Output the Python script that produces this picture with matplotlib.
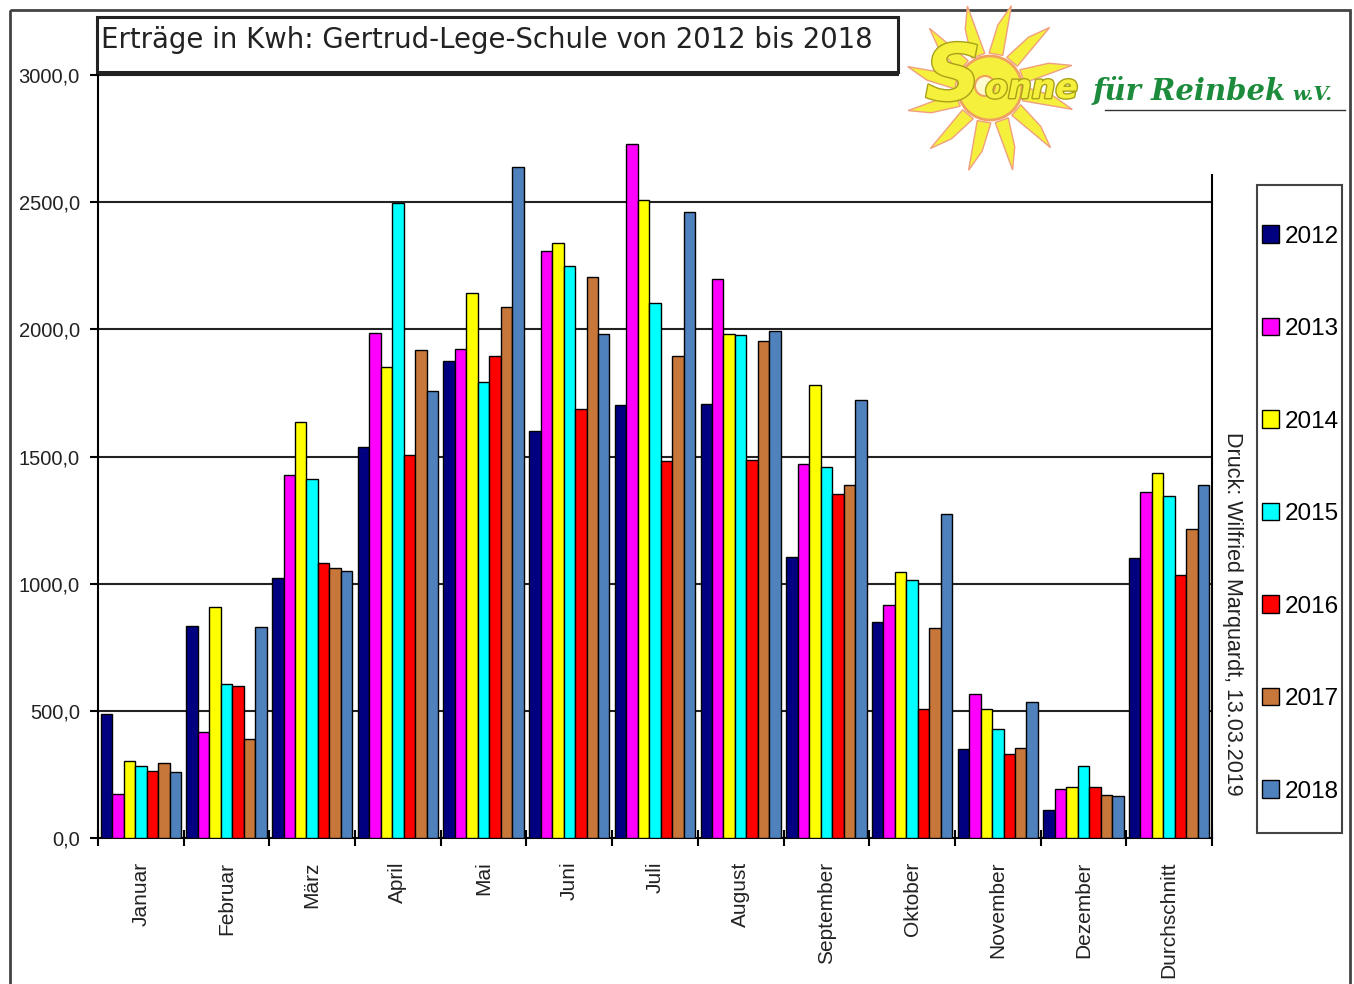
import numpy as np
import matplotlib
matplotlib.use('Agg')
from matplotlib import pyplot as plt
from matplotlib.patches import Rectangle, Polygon, Circle
import matplotlib.patheffects as pe

# Monate und Jahreswerte (kWh)
monate = ['Januar', 'Februar', 'März', 'April', 'Mai', 'Juni', 'Juli', 'August',
          'September', 'Oktober', 'November', 'Dezember', 'Durchschnitt']
jahre = ['2012', '2013', '2014', '2015', '2016', '2017', '2018']

w2012 = [486, 834, 1021, 1538, 1875, 1601, 1701, 1706, 1105, 850, 350, 110, 1101]
w2013 = [173, 418, 1426, 1986, 1922, 2309, 2728, 2197, 1470, 915, 565, 194, 1359]
w2014 = [301, 907, 1634, 1853, 2141, 2340, 2508, 1980, 1783, 1046, 508, 202, 1434]
w2015 = [283, 604, 1411, 2497, 1794, 2248, 2104, 1978, 1460, 1013, 427, 283, 1344]
w2016 = [263, 599, 1080, 1506, 1896, 1685, 1482, 1486, 1351, 506, 330, 199, 1036]
w2017 = [293, 388, 1060, 1918, 2089, 2206, 1896, 1955, 1389, 825, 354, 169, 1215]
w2018 = [260, 829, 1050, 1758, 2639, 1980, 2462, 1993, 1722, 1272, 536, 166, 1389]

werte = [w2012, w2013, w2014, w2015, w2016, w2017, w2018]
farben = ['#000080', '#ff00ff', '#ffff00', '#00ffff', '#ff0000', '#c8773a', '#4f81bd']

W, H = 1354, 984
fig = plt.figure(figsize=(W / 100, H / 100), dpi=100)
fig.patch.set_facecolor('white')

# Diagrammbereich in Pixeln
ax = fig.add_axes([98 / W, 1 - 838 / H, (1212 - 98) / W, (838 - 75) / H])
ax.set_facecolor('white')

x = np.arange(len(monate))
breite = 0.134
for k, (jahr, vals, col) in enumerate(zip(jahre, werte, farben)):
    ax.bar(x + (k - 3) * breite, vals, width=breite, color=col, edgecolor='black',
           linewidth=1.0, label=jahr, zorder=3)

ax.set_xlim(-0.5, len(monate) - 0.5)
ax.set_ylim(0, 3000)

# Gitterlinien
ax.hlines([500, 1000, 1500, 2000, 2500], -0.5, len(monate) - 0.5, color='#222222',
          linewidth=1.5, zorder=1)
ax.hlines([3000], -0.5, 8.85, color='#222222', linewidth=1.5, zorder=1, clip_on=False)

# Achsen
ax.spines['top'].set_visible(False)
ax.spines['right'].set_bounds(0, 2606)
for s in ['left', 'right', 'bottom']:
    ax.spines[s].set_linewidth(1.5)

ax.set_yticks(np.arange(0, 3001, 500))
ax.set_yticklabels([f'{v:.1f}'.replace('.', ',') for v in np.arange(0, 3001, 500)],
                   fontsize=14.5, family='Liberation Sans', color='#222222')
ax.tick_params(axis='y', direction='out', length=6, width=1.5, pad=7)

ax.set_xticks(np.arange(-0.5, len(monate), 1.0))
ax.set_xticklabels([])
ax.tick_params(axis='x', which='major', direction='inout', length=12, width=1.5)
ax.set_xticks(x, minor=True)
ax.set_xticklabels(monate, minor=True, rotation=90, va='top', fontsize=15,
                   family='Liberation Sans', color='#222222')
ax.tick_params(axis='x', which='minor', length=0, pad=17)

# Legende (Rahmen separat, da oben/unten viel Luft)
leg = ax.legend(loc='center left', bbox_to_anchor=(1260 / W, 1 - 514 / H),
                bbox_transform=fig.transFigure, labelspacing=2.9,
                handlelength=0.7, handleheight=0.7, handletextpad=0.2,
                borderpad=0.1, borderaxespad=0, frameon=False,
                prop={'family': 'Liberation Sans', 'size': 17.5})

# Hintergrund-Overlay in Pixelkoordinaten: Rahmen
ov = fig.add_axes([0, 0, 1, 1], zorder=-1)
ov.set_xlim(0, W)
ov.set_ylim(H, 0)
ov.axis('off')
ov.patch.set_alpha(0)
ax.set_zorder(1)
ax.patch.set_alpha(0)

ov.add_patch(Rectangle((1257, 185), 85, 648, fill=False, edgecolor='#444444', linewidth=1.5))
ov.add_patch(Rectangle((10, 10), 1340, 1000, fill=False, edgecolor='#444444', linewidth=2))

# Vordergrund-Overlay: Titel, Druckvermerk, Logo
ov2 = fig.add_axes([0, 0, 1, 1], zorder=5)
ov2.set_xlim(0, W)
ov2.set_ylim(H, 0)
ov2.axis('off')
ov2.patch.set_alpha(0)

ov2.add_patch(Rectangle((97, 17), 801, 55, facecolor='white', edgecolor='#222222', linewidth=2.2))
ov2.text(101, 40, 'Erträge in Kwh: Gertrud-Lege-Schule von 2012 bis 2018', fontsize=19.8,
         family='DejaVu Sans', color='#222222', va='center', ha='left')

ov2.text(1232, 614, 'Druck: Wilfried Marquardt, 13.03.2019', rotation=270, fontsize=15.5,
         family='Liberation Sans', color='#222222', ha='center', va='center')

# Logo: Sonne
cx, cy = 990, 88
for i in range(12):
    a = np.deg2rad(i * 30 + 10)
    a1, a2 = a - 0.2, a + 0.2
    r0, r1 = 35, 85
    pts = [(cx + r0 * np.cos(a1), cy + r0 * np.sin(a1)),
           (cx + 0.75 * r1 * np.cos(a - 0.05), cy + 0.75 * r1 * np.sin(a - 0.05)),
           (cx + r1 * np.cos(a + 0.08), cy + r1 * np.sin(a + 0.08)),
           (cx + r0 * np.cos(a2), cy + r0 * np.sin(a2))]
    ov2.add_patch(Polygon(pts, closed=True, facecolor='#f4f03c', edgecolor='#f0a080', linewidth=1))
ov2.add_patch(Circle((cx, cy), 32, facecolor='#f4f03c', edgecolor='#f0a060', linewidth=2))
ov2.add_patch(Circle((cx - 5, cy - 2), 10, facecolor='#fffbd0', edgecolor='#f0a060', linewidth=1.5))

ov2.text(925, 100, 'S', fontsize=56, fontweight='bold', fontstyle='italic', color='#f4f03c',
         family='DejaVu Sans', va='baseline',
         path_effects=[pe.withStroke(linewidth=2, foreground='#a8a018')])
ov2.text(985, 98, 'onne', fontsize=24, fontweight='bold', fontstyle='italic', color='#f4f03c',
         family='DejaVu Sans', va='baseline',
         path_effects=[pe.withStroke(linewidth=2, foreground='#a8a018')])
ov2.text(1093, 100, 'für Reinbek', fontsize=21, fontweight='bold', fontstyle='italic',
         color='#1c8c3c', family='DejaVu Serif', va='baseline')
ov2.text(1292, 100, 'w.V.', fontsize=14, fontweight='bold', fontstyle='italic',
         color='#1c8c3c', family='DejaVu Serif', va='baseline')
ov2.plot([1105, 1345], [110, 110], color='#333333', linewidth=1)

fig.savefig('out.png', dpi=100, facecolor='white')
